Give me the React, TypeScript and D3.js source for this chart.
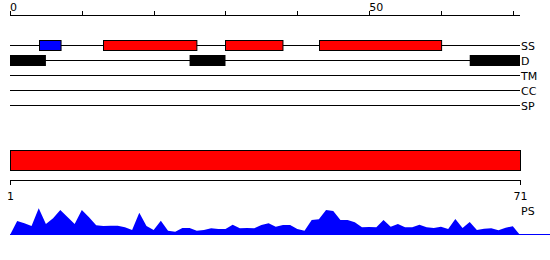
import React from "react";
import * as d3 from "d3";

const topTicks = [0, 10, 20, 30, 40, 50, 60, 70];
const topTickLabels = ["0", "50"];
const helices: [number, number][] = [[13, 26], [30, 38], [43, 60]];
const strands: [number, number][] = [[4, 7]];
const disorder: [number, number][] = [[0, 5], [25, 30], [64, 71]];
const trackNames = ["SS", "D", "TM", "CC", "SP"];
const domains: [number, number][] = [[1, 71]];
const bottomTicks = [1, 71];
const scores = [
  0, 14, 11.7, 9, 26.7, 11, 16.7, 25, 18, 11, 25, 17.7, 9.7, 9, 9.3, 9.3, 7.7, 5, 22.3,
  9, 5, 14.3, 4.3, 3.3, 7, 7, 4.3, 5, 6.7, 6, 6, 10.3, 6.7, 7, 6.7, 10, 11.7,
  8.3, 10, 10, 6, 4.3, 15, 15.7, 25, 24, 15, 15, 12.7, 7.7, 8, 7.7, 15, 8.3, 11,
  7.7, 7.7, 10.3, 7.7, 7, 8.3, 6, 16, 7, 13, 5, 6.3, 6.7, 4.7, 7.3, 8.7, 0,
];

export default function App() {
  const x = d3.scaleLinear().domain([0, 71]).range([10, 520]);
  const xb = d3.scaleLinear().domain([1, 71]).range([10, 520]);
  const y = d3.scaleLinear().domain([0, 30]).range([235, 205]);
  const trackY = d3.scalePoint<string>().domain(trackNames).range([45, 105]);
  const area = d3
    .area<number>()
    .x((_, i) => x(i))
    .y0(y(0))
    .y1((d) => y(d));
  const font = "DejaVu Sans, sans-serif";
  return (
    <svg
      width={550}
      height={260}
      style={{ position: "absolute", left: 0, top: 0, background: "#fff" }}
      fontFamily={font}
      fontSize={11}
    >
      {/* top axis */}
      <line x1={x(0)} x2={x(71)} y1={15.5} y2={15.5} stroke="#000" />
      {topTicks.map((t) => (
        <line key={t} x1={Math.round(x(t)) + 0.5} x2={Math.round(x(t)) + 0.5} y1={11} y2={15.5} stroke="#000" />
      ))}
      {topTickLabels.map((t) => (
        <text key={t} x={x(+t)} y={10.5} fill="#000">
          {t}
        </text>
      ))}
      {/* tracks */}
      {trackNames.map((n) => {
        const ty = trackY(n)!;
        return (
          <g key={n}>
            <line x1={x(0)} x2={x(71)} y1={ty + 0.5} y2={ty + 0.5} stroke="#000" />
            <text x={521} y={ty + 4.5} fill="#000">
              {n}
            </text>
          </g>
        );
      })}
      {strands.map(([a, b], i) => (
        <rect key={"s" + i} x={Math.round(x(a)) + 0.5} y={40.5} width={x(b) - x(a)} height={10} fill="#0000ff" stroke="#000" />
      ))}
      {helices.map(([a, b], i) => (
        <rect key={"h" + i} x={Math.round(x(a)) + 0.5} y={40.5} width={x(b) - x(a)} height={10} fill="#ff0000" stroke="#000" />
      ))}
      {disorder.map(([a, b], i) => (
        <rect key={"d" + i} x={x(a)} y={55} width={x(b) - x(a)} height={11} fill="#000" />
      ))}
      {/* domain bar */}
      {domains.map(([a, b], i) => (
        <rect key={"dm" + i} x={xb(a) + 0.5} y={150.5} width={xb(b) - xb(a)} height={20} fill="#ff0000" stroke="#000" />
      ))}
      {/* bottom axis */}
      <line x1={xb(1)} x2={xb(71)} y1={180.5} y2={180.5} stroke="#000" />
      {bottomTicks.map((t) => (
        <g key={t}>
          <line x1={xb(t) + 0.5} x2={xb(t) + 0.5} y1={180} y2={185} stroke="#000" />
          <text x={xb(t) + 0.5} y={200} textAnchor="middle" fill="#000">
            {t}
          </text>
        </g>
      ))}
      <text x={521} y={215} fill="#000">
        PS
      </text>
      {/* score area */}
      <path d={area(scores) ?? ""} fill="#0000ff" />
      <line x1={x(0)} x2={550} y1={234.5} y2={234.5} stroke="#0000ff" />
    </svg>
  );
}
